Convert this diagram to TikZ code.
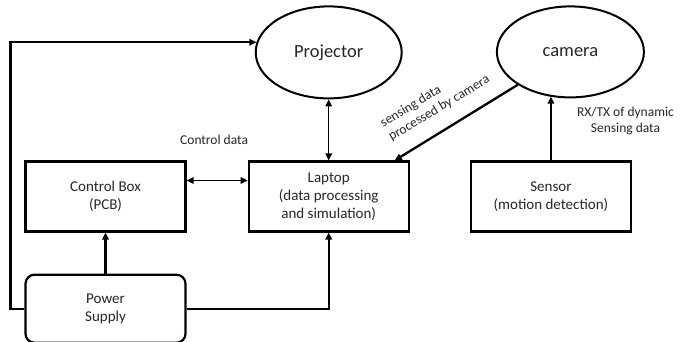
\documentclass[tikz,border=0pt]{standalone}
\usepackage{fontspec}
\setmainfont{Carlito}
\usetikzlibrary{positioning, shapes.geometric, calc, arrows.meta}

\begin{document}
\begin{tikzpicture}[
    x=1pt, y=1pt,
    node distance=61pt,
    >={Triangle[length=7pt,width=6.5pt]},
    box/.style={draw, line width=2.2pt, minimum width=160pt, minimum height=70pt, inner sep=2pt, align=center, font=\fontsize{15}{18}\selectfont, text=black!85},
    oval/.style={draw, ellipse, line width=2pt, minimum width=146pt, minimum height=92pt, inner sep=0pt, font=\fontsize{18.5}{22}\selectfont, text=black!85},
    lbl/.style={inner sep=1pt, align=center, font=\fontsize{13.5}{16}\selectfont, text=black!85},
    wire/.style={line width=2.3pt},
    thinwire/.style={line width=1.5pt}
]
\useasboundingbox (0,0) rectangle (684,341);

% Nodes
\node[box] (control) at (105.5,144.5) {Control Box\\(PCB)};
\node[box] (laptop) [right=of control] {Laptop\\(data processing\\and simulation)};
\node[box] (sensor) [right=60pt of laptop] {Sensor\\(motion detection)};
\node[box, rounded corners=9pt, minimum height=68pt] (power) [below=41pt of control] {Power\\Supply};
\node[oval] (projector) [above=of laptop] {Projector};
\node[oval, minimum width=147pt, minimum height=91pt] (camera) [above=62pt of sensor, xshift=19.5pt] {camera};

% Labels
\node[lbl] (ctrldata) at ($(control.north east)!0.5!(laptop.north west)+(-3,21)$) {Control data};
\node[lbl, align=left, rotate=31] (camlabel) at ($(camera.212)!0.55!([xshift=-15pt]laptop.north east)+(-15,25)$) {sensing data\\processed by camera};

% Arrows
\draw[wire, ->] (power.west) -- ++(-14,0) |- (projector.172);
\draw[wire, ->] (power.east) -| (laptop.south);
\draw[wire, ->] (power.north) -- (control.south);
\draw[thinwire, <->] ([yshift=16pt]control.east) -- ([yshift=16pt]laptop.west);
\draw[thinwire, <->] (projector.south) -- (projector.south |- laptop.north);
\draw[wire, ->] (camera.212) -- ([xshift=-15pt]laptop.north east);
\draw[wire, ->] (sensor.north) -- node (rxlabel) [lbl, pos=0.62, right=24pt] {RX/TX of dynamic\\Sensing data} (sensor.north |- camera.246);

\end{tikzpicture}
\end{document}
